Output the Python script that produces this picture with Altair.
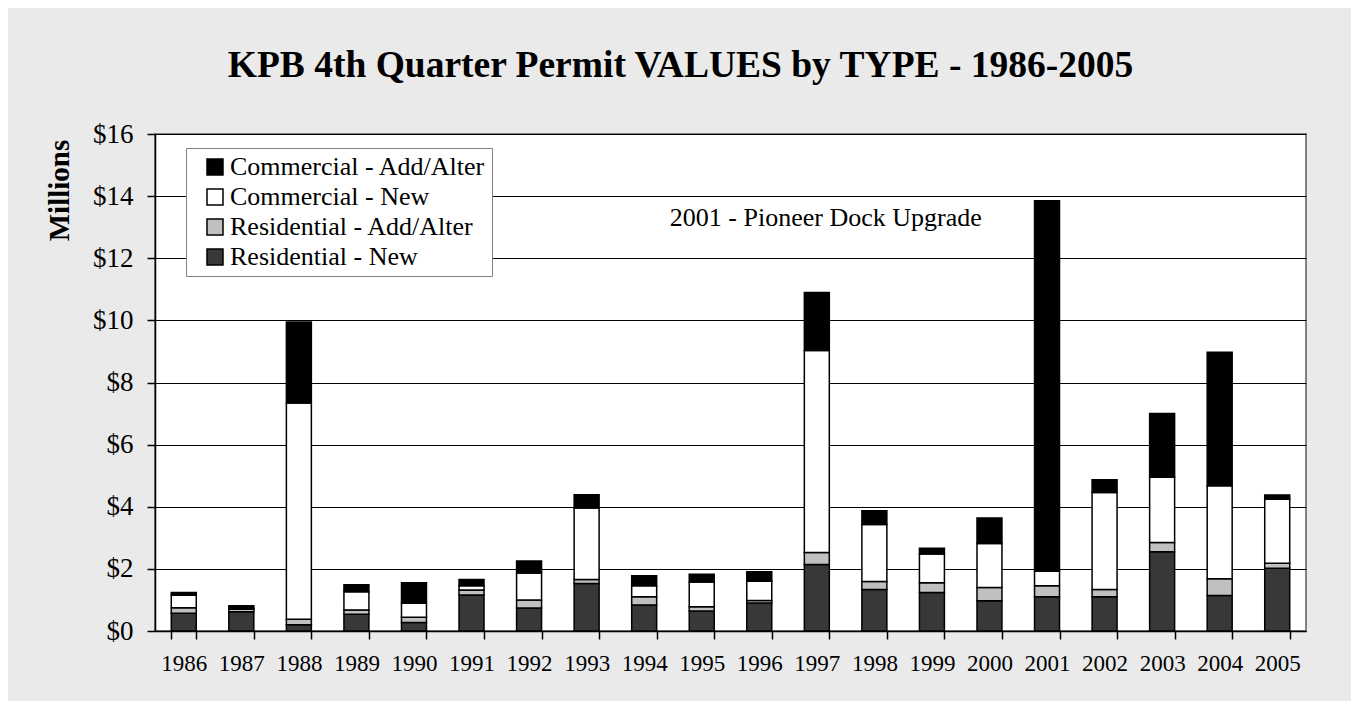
import altair as alt
import pandas as pd

years = [str(y) for y in range(1986, 2006)]
res_new = [0.57, 0.62, 0.20, 0.54, 0.27, 1.16, 0.74, 1.53, 0.84, 0.64,
           0.90, 2.14, 1.34, 1.24, 0.97, 1.10, 1.10, 2.55, 1.14, 2.02]
res_add = [0.18, 0.08, 0.18, 0.14, 0.17, 0.16, 0.26, 0.13, 0.26, 0.14,
           0.08, 0.39, 0.25, 0.31, 0.43, 0.36, 0.24, 0.30, 0.54, 0.16]
com_new = [0.40, 0.03, 6.96, 0.58, 0.45, 0.14, 0.87, 2.30, 0.36, 0.80,
           0.62, 6.50, 1.84, 0.93, 1.42, 0.46, 3.12, 2.10, 3.00, 2.06]
com_add = [0.09, 0.08, 2.61, 0.23, 0.66, 0.20, 0.38, 0.43, 0.32, 0.25,
           0.31, 1.87, 0.44, 0.18, 0.82, 11.93, 0.41, 2.05, 4.29, 0.14]

series = ["Commercial - Add/Alter", "Commercial - New",
          "Residential - Add/Alter", "Residential - New"]
colors = ["#000000", "#ffffff", "#c0c0c0", "#383838"]
y_ticks = [0, 2, 4, 6, 8, 10, 12, 14, 16]
note_text = "2001 - Pioneer Dock Upgrade"
note_year = ["1997"]
note_value = [13.3]

values_by_series = {
    "Residential - New": res_new,
    "Residential - Add/Alter": res_add,
    "Commercial - New": com_new,
    "Commercial - Add/Alter": com_add,
}
stack_rank = {"Residential - New": 0, "Residential - Add/Alter": 1,
              "Commercial - New": 2, "Commercial - Add/Alter": 3}

rows = []
for i, yr in enumerate(years):
    for name, vals in values_by_series.items():
        rows.append({"year": yr, "type": name, "value": vals[i], "rank": stack_rank[name]})
df = pd.DataFrame(rows)

FONT = "Liberation Serif"

bars = alt.Chart(df).mark_bar(stroke="black", strokeWidth=1.5).encode(
    x=alt.X("year:O", sort=years,
            scale=alt.Scale(paddingInner=0.566, paddingOuter=0.283),
            axis=alt.Axis(title=None, labelAngle=0, tickBand="extent",
                          tickSize=8, labelPadding=13, labelFontSize=23,
                          grid=False)),
    y=alt.Y("value:Q", stack="zero",
            scale=alt.Scale(domain=[0, 16], nice=False),
            axis=alt.Axis(values=y_ticks, labelExpr="'$' + datum.value",
                          title="Millions", titleFontSize=29, titleFontWeight="bold",
                          titleAngle=-90, titleX=-96, titleY=56,
                          titleAlign="center", titleBaseline="middle",
                          tickSize=8, labelPadding=14, labelFontSize=27,
                          grid=True, gridColor="#000000", gridWidth=1)),
    color=alt.Color("type:N", scale=alt.Scale(domain=series, range=colors),
                    legend=alt.Legend(title=None, orient="none", legendX=31, legendY=14,
                                      symbolType="square", symbolSize=256,
                                      symbolStrokeColor="black", symbolStrokeWidth=1.5,
                                      labelFont=FONT, labelFontSize=26, labelColor="black",
                                      labelLimit=400, labelOffset=2,
                                      padding=6, rowPadding=4, symbolOffset=10,
                                      fillColor="white", strokeColor="#808080")),
    order=alt.Order("rank:Q", sort="ascending"),
)

note_df = pd.DataFrame({"year": note_year, "value": note_value, "label": [note_text]})
note = alt.Chart(note_df).mark_text(font=FONT, fontSize=26, color="black",
                                    baseline="middle", dx=9).encode(
    x=alt.X("year:O", sort=years),
    y=alt.Y("value:Q"),
    text="label:N",
)

chart = alt.layer(bars, note).properties(
    width=1151, height=497,
    autosize=alt.AutoSizeParams(type="none"),
    padding={"left": 147, "top": 126, "right": 45, "bottom": 70},
    background="#eaeaea",
    title=alt.TitleParams("KPB 4th Quarter Permit VALUES by TYPE - 1986-2005",
                          font=FONT, fontSize=37.5, fontWeight="bold", color="black",
                          anchor="middle", dx=-50, offset=6, baseline="alphabetic"),
).configure_view(
    stroke="#808080", strokeWidth=2, fill="white"
).configure_axis(
    labelFont=FONT, titleFont=FONT, labelColor="black", titleColor="black",
    domainColor="black", domainWidth=1.5, tickColor="black", tickWidth=1.5,
).configure_legend(
    labelFont=FONT
)

chart.save("out.html", embed_options={"renderer": "svg", "actions": False})
